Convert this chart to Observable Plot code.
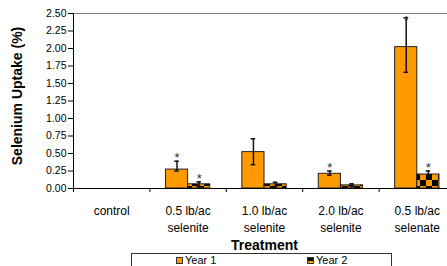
<!DOCTYPE html>
<html><head><meta charset="utf-8">
<script src="https://cdn.jsdelivr.net/npm/d3@7"></script>
<script src="https://cdn.jsdelivr.net/npm/@observablehq/plot@0.6"></script>
<style>
body{margin:0;background:#fff;font-family:"Liberation Sans",Arial,sans-serif;overflow:hidden;}
#legend{position:relative;margin-left:131px;width:259px;height:20px;border:1px solid #333;font-size:11px;color:#000;}
.sw{position:absolute;top:3px;width:5px;height:5px;border:1px solid #333;}
.lt{position:absolute;top:0px;line-height:12px;white-space:nowrap;}
</style></head><body>
<div id="chart"></div>
<div id="legend"></div>
<script>
const categories = ["control", "0.5 lb/ac selenite", "1.0 lb/ac selenite", "2.0 lb/ac selenite", "0.5 lb/ac selenate"];
const tickLabels = ["control", "0.5 lb/ac\nselenite", "1.0 lb/ac\nselenite", "2.0 lb/ac\nselenite", "0.5 lb/ac\nselenate"];
const seriesNames = ["Year 1", "Year 2"];
const year1 = [0, 0.27, 0.52, 0.21, 2.02];
const year1Hi = [0, 0.39, 0.71, 0.25, 2.44];
const year1Lo = [0, 0.25, 0.34, 0.19, 1.66];
const year2 = [0, 0.06, 0.06, 0.045, 0.20];
const year2Hi = [0, 0.095, 0.09, 0.067, 0.25];
const year2Lo = [0, 0.03, 0.03, 0.025, 0.15];
const year1Star = [false, true, false, true, true];
const year2Star = [false, true, false, false, true];
const yTicks = [0, 0.25, 0.5, 0.75, 1, 1.25, 1.5, 1.75, 2, 2.25, 2.5];
const yLabel = "Selenium Uptake (%)";
const xLabel = "Treatment";

const ORANGE = "#FF9900";
const off = {"Year 1": [0.21, 0.5], "Year 2": [0.5, 0.79]};
const rows = categories.flatMap((c, i) => [
  {i, c, s: "Year 1", v: year1[i], hi: year1Hi[i], lo: year1Lo[i], star: year1Star[i]},
  {i, c, s: "Year 2", v: year2[i], hi: year2Hi[i], lo: year2Lo[i], star: year2Star[i]}
]).filter(d => d.v > 0);
rows.forEach(d => { d.x1 = d.i + off[d.s][0]; d.x2 = d.i + off[d.s][1]; d.cx = (d.x1 + d.x2) / 2; });

const chart = Plot.plot({
  width: 447, height: 253,
  marginTop: 13, marginBottom: 65, marginLeft: 73, marginRight: -8,
  x: {domain: [0, 5], range: [73, 455]},
  y: {domain: [0, 2.5], range: [188, 13]},
  style: {fontFamily: "'Liberation Sans', Arial, sans-serif", fontSize: "10.5px", color: "#000", background: "#fff"},
  marks: [
    Plot.ruleY([2.5], {stroke: "#808080", strokeWidth: 1.2}),
    Plot.rect(rows, {x1: "x1", x2: "x2", y1: 0, y2: "v",
      fill: d => d.s === "Year 1" ? ORANGE : "url(#chk)", stroke: "#222", strokeWidth: 1}),
    Plot.ruleX(rows, {x: "cx", y1: "lo", y2: "hi", stroke: "#111", strokeWidth: 1.5}),
    Plot.ruleY(rows, {y: "hi", x1: d => d.cx - 0.03, x2: d => d.cx + 0.03, stroke: "#111", strokeWidth: 1.5}),
    Plot.ruleY(rows, {y: "lo", x1: d => d.cx - 0.03, x2: d => d.cx + 0.03, stroke: "#111", strokeWidth: 1.5}),
    Plot.text(rows.filter(d => d.star), {x: "cx", y: d => Math.min(d.hi + 0.05, 2.4), text: () => "*",
      fontSize: 13, fill: "#333", lineAnchor: "middle"}),
    Plot.ruleX([0], {stroke: "#000"}),
    Plot.ruleY([0], {stroke: "#000"}),
    Plot.axisY({ticks: yTicks, tickFormat: d3.format(".2f"), tickSize: 5, tickPadding: 2, label: null, fontSize: 10.5}),
    Plot.axisX({ticks: [0, 1, 2, 3, 4, 5], tickSize: 4, tickFormat: () => "", label: null}),
    Plot.axisX({ticks: [0.5, 1.5, 2.5, 3.5, 4.5], tickSize: 0, tickPadding: 15, fontSize: 12, lineHeight: 1.4,
      tickFormat: d => tickLabels[Math.floor(d)], label: null}),
    Plot.text([xLabel], {frameAnchor: "bottom", dy: 57, lineAnchor: "middle", fontWeight: "bold", fontSize: 14}),
    Plot.text([yLabel], {frameAnchor: "left", rotate: -90, dx: -56, dy: -5, textAnchor: "middle", lineAnchor: "middle",
      fontWeight: "bold", fontSize: 14})
  ]
});
d3.select(chart).insert("defs", ":first-child").html(
  '<pattern id="chk" patternUnits="userSpaceOnUse" width="12" height="12">' +
  '<rect width="12" height="12" fill="' + ORANGE + '"/>' +
  '<rect width="6" height="6" fill="#000"/><rect x="6" y="6" width="6" height="6" fill="#000"/></pattern>'
);
document.getElementById("chart").appendChild(chart);

const legend = d3.select("#legend");
const legX = [44, 175];
seriesNames.forEach((s, k) => {
  legend.append("span").attr("class", "sw").style("left", legX[k] + "px")
    .style("background", k === 0 ? ORANGE : "linear-gradient(#000 50%, " + ORANGE + " 50%)");
  legend.append("span").attr("class", "lt").style("left", (legX[k] + 9) + "px").text(s);
});
</script>
</body></html>
